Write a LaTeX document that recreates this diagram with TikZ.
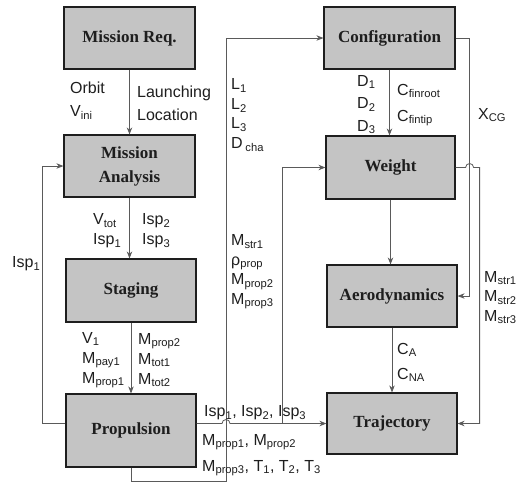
\documentclass[tikz,border=0pt]{standalone}
\usepackage{fontspec}
\setmainfont{Liberation Serif}
\setsansfont{Liberation Sans}
\usetikzlibrary{arrows.meta,calc}
\definecolor{ink}{HTML}{1E1E1E}
\definecolor{wire}{HTML}{5A5A5A}
\definecolor{boxgray}{HTML}{C4C4C4}
\tikzset{
  block/.style={draw=ink,line width=1.2pt,fill=boxgray,minimum width=131pt,minimum height=62pt,inner sep=0pt,align=center,font=\rmfamily\bfseries\fontsize{17}{24}\selectfont,text=ink},
  lab/.style={anchor=west,align=left,inner sep=0pt,font=\sffamily\fontsize{16}{20}\selectfont,text=ink},
  ar/.style={-{Stealth[length=7pt,width=5.5pt]},draw=wire,line width=.8pt},
}
\newcommand{\subtxt}[1]{\textsubscript{#1}}
\begin{document}
\begin{tikzpicture}[x=1pt,y=-1pt]
\useasboundingbox (0,0) rectangle (521,483);
% blocks
\node[block] (mreq) at (129.5,38) {Mission Req.};
\node[block] (mana) at (129.5,166) {Mission\\Analysis};
\node[block,minimum width=130pt,minimum height=63pt] (stag) at (131,290.5) {Staging};
\node[block,minimum width=130pt,minimum height=73pt] (prop) at (131,430.5) {Propulsion};
\node[block] (conf) at (389.5,38) {Configuration};
\node[block,minimum width=129pt,minimum height=63pt] (wgt) at (390.5,167.5) {Weight};
\node[block,minimum width=130pt] (aero) at (392,296) {Aerodynamics};
\node[block,minimum width=130pt,minimum height=61pt] (traj) at (392,423.5) {Trajectory};
\coordinate (bt) at (226,481);
\coordinate (jb) at (282,423.5);
% straight links
\draw[ar] (mreq) -- (mana);
\draw[ar] (mana.south) -- (mana.south |- stag.north);
\draw[ar] (stag) -- (prop);
\draw[ar] (conf.south) -- (conf.south |- wgt.north);
\draw[ar] (wgt.south) -- (wgt.south |- aero.north);
\draw[ar] (aero) -- (traj);
% feedback and routed links
\draw[ar] (prop.west |- traj.west) -- ++(-23,0) |- (mana.west);
\draw[ar] (prop.east |- traj.west) -- ($(bt |- traj.west)+(-4,0)$) arc[start angle=180,end angle=360,radius=4] -- (traj.west);
\draw[ar] (jb) |- (wgt.west);
\draw[ar] (prop.south) |- (bt) |- (conf.west);
\draw[ar] (conf.east) -- ++(14,0) |- (aero.east);
\draw[ar] (wgt.east) -- ++(10,0) arc[start angle=180,end angle=360,radius=4] -- ++(6,0) |- (traj.east);
% labels
\node[lab,font=\sffamily\fontsize{16}{23}\selectfont] (orb) at (70,100.5) {Orbit\\V\subtxt{ini}};
\node[lab,font=\sffamily\fontsize{16}{23}\selectfont] (lnch) at (137,103.5) {Launching\\Location};
\node[lab] (vtot) at (93,231) {V\subtxt{tot}\\Isp\subtxt{1}};
\node[lab] (isps) at (142,231) {Isp\subtxt{2}\\Isp\subtxt{3}};
\node[lab] (vone) at (82,360) {V\subtxt{1}\\M\subtxt{pay1}\\M\subtxt{prop1}};
\node[lab] (mtot) at (138,360) {M\subtxt{prop2}\\M\subtxt{tot1}\\M\subtxt{tot2}};
\node[lab] (ispfb) at (12,264) {Isp\subtxt{1}};
\node[lab,font=\sffamily\fontsize{16}{19.5}\selectfont] (geo) at (231,115) {L\subtxt{1}\\L\subtxt{2}\\L\subtxt{3}\\D\,\subtxt{cha}};
\node[lab,font=\sffamily\fontsize{16}{19.5}\selectfont] (mstr) at (231,272) {M\subtxt{str1}\\ρ\subtxt{prop}\\M\subtxt{prop2}\\M\subtxt{prop3}};
\node[lab,font=\sffamily\fontsize{16}{22.5}\selectfont] (dia) at (357,104.5) {D\subtxt{1}\\D\subtxt{2}\\D\subtxt{3}};
\node[lab,font=\sffamily\fontsize{16}{26}\selectfont] (fin) at (397,105) {C\subtxt{finroot}\\C\subtxt{fintip}};
\node[lab] (xcg) at (478,115) {X\subtxt{CG}};
\node[lab,font=\sffamily\fontsize{16}{19.5}\selectfont] (mstrb) at (484,297.5) {M\subtxt{str1}\\M\subtxt{str2}\\M\subtxt{str3}};
\node[lab,font=\sffamily\fontsize{16}{25}\selectfont] (cna) at (397,362.5) {C\subtxt{A}\\C\subtxt{NA}};
\node[lab] (ispall) at (204,413) {Isp\subtxt{1}, Isp\subtxt{2}, Isp\subtxt{3}};
\node[lab] (mpa) at (202,442) {M\subtxt{prop1}, M\subtxt{prop2}};
\node[lab] (mpb) at (202,468) {M\subtxt{prop3}, T\subtxt{1}, T\subtxt{2}, T\subtxt{3}};
\end{tikzpicture}
\end{document}
